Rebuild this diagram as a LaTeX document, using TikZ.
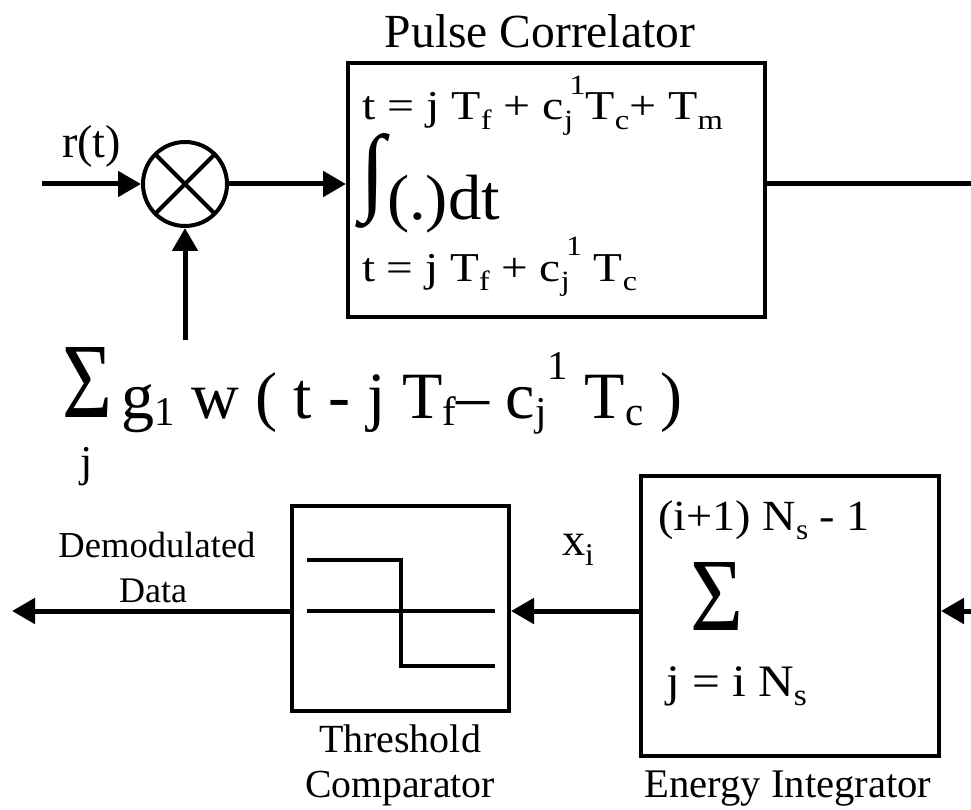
\documentclass[tikz,border=0pt]{standalone}
\usepackage{fontspec}
\setmainfont{Liberation Serif}
\usepackage{graphicx}
\usetikzlibrary{arrows.meta}
\newcommand\mysb[1]{\raisebox{-0.22em}{\scalebox{0.68}{#1}}}
\newcommand\mysp[1]{\raisebox{0.62em}{\scalebox{0.68}{#1}}}
\newcommand\fsb[1]{\raisebox{-0.12em}{\scalebox{0.62}{#1}}}
\newcommand\fsp[1]{\raisebox{0.58em}{\scalebox{0.62}{#1}}}
% stretched to a width, height kept
\newcommand\fitw[3]{\fontsize{#1}{#1}\selectfont\resizebox{#2}{\height}{#3}}
% uniformly scaled to a width
\newcommand\fitu[2]{\fontsize{40}{40}\selectfont\resizebox{#1}{!}{#2}}
\begin{document}
\begin{tikzpicture}[x=1pt,y=-1pt,
  blk/.style={draw, line width=4pt, inner sep=0pt, rectangle},
  conn/.style={line width=5pt},
  arr/.style={conn, -{Triangle[length=23pt,width=25pt]}},
  lbl/.style={inner sep=0pt, outer sep=0pt}]
\useasboundingbox (0,0) rectangle (971,810);

% blocks
\node[blk, minimum width=417pt, minimum height=254pt] (pc) at (556.5,190) {};
\node[draw, circle, line width=4pt, minimum size=84pt, inner sep=0pt] (mix) at (185,184) {};
\draw[line width=4pt, shorten <=2pt, shorten >=2pt] (mix.45) -- (mix.225) (mix.135) -- (mix.315);
\node[blk, minimum width=298pt, minimum height=280pt] (ei) at (790,616) {};
\node[blk, minimum width=217pt, minimum height=205pt] (th) at (400.5,608.5) {};

% threshold symbol
\draw[line width=3.5pt] (307,560) -- (401,560) -- (401,666) -- (495,666);
\draw[line width=3.5pt] (307,611) -- (495,611);

% free ends
\coordinate (inL) at (42,184);
\coordinate (sumB) at (185,340);
\coordinate (outR) at (971,184);
\coordinate (inR) at (971,611);
\coordinate (outL) at (12,611);

% connectors
\draw[arr] (inL) -- (mix.west);
\draw[arr] (mix.east) -- (mix.east -| pc.west);
\draw[arr] (sumB) -- (mix.south);
\draw[conn] (pc.east |- mix.east) -- (outR);
\draw[arr] (inR) -- (inR -| ei.east);
\draw[arr] (inR -| ei.west) -- (inR -| th.east);
\draw[arr] (inR -| th.west) -- (outL);

% texts top
\node[lbl, anchor=base] (pcl) at (540,48) {\fitu{310pt}{Pulse Correlator}};
\node[lbl, anchor=base west] (lim1) at (362,120) {\fitw{41}{361pt}{t = j T\mysb{f} + c\mysb{j}\kern-0.08em\mysp{1}T\mysb{c}+ T\mysb{m}}};
\node[lbl, anchor=north west] (intg) at (360,133) {\fontsize{60}{60}\selectfont\resizebox*{25pt}{95pt}{∫}};
\node[lbl, anchor=base west] (intd) at (387,220) {\fitw{64}{113pt}{(.)dt}};
\node[lbl, anchor=base west] (lim2) at (362,281) {\fitw{41}{275pt}{t = j T\mysb{f} + c\mysb{j}\kern-0.08em\mysp{1} T\mysb{c}}};
\node[lbl, anchor=base west] (rt) at (62,158) {\fitu{59pt}{r(t)}};

% formula
\node[lbl, anchor=base west] (fsig) at (62,417) {\fontsize{60}{60}\selectfont\resizebox{50pt}{70pt}{Σ}};
\node[lbl, anchor=base west] (fexp) at (121,418) {\fitu{561pt}{g\fsb{1} w ( t - j T\fsb{f}– c\fsb{j}\kern0.02em\fsp{1} T\fsb{c} )}};
\node[lbl, anchor=base west] (fj) at (80,476) {\fontsize{44}{44}\selectfont j};

% bottom texts
\node[lbl, anchor=base west] (eitop) at (658,530) {\fitw{43}{212pt}{(i+1) N\mysb{s} - 1}};
\node[lbl, anchor=base west] (eisig) at (690,630) {\fontsize{60}{60}\selectfont\resizebox{53pt}{68pt}{Σ}};
\node[lbl, anchor=base west] (eibot) at (666,696) {\fitw{45}{141pt}{j = i N\mysb{s}}};
\node[lbl, anchor=base west] (xi) at (562,555) {\fitu{32pt}{x\mysb{i}}};
\node[lbl, anchor=base] (dem) at (157,557) {\fitu{197pt}{Demodulated}};
\node[lbl, anchor=base] (dat) at (153,602) {\fitu{68pt}{Data}};
\node[lbl, anchor=base] (thl1) at (400,752) {\fitu{162pt}{Threshold}};
\node[lbl, anchor=base] (thl2) at (400,797) {\fitu{190pt}{Comparator}};
\node[lbl, anchor=base] (eil) at (788,797) {\fitu{287pt}{Energy Integrator}};
\end{tikzpicture}
\end{document}
